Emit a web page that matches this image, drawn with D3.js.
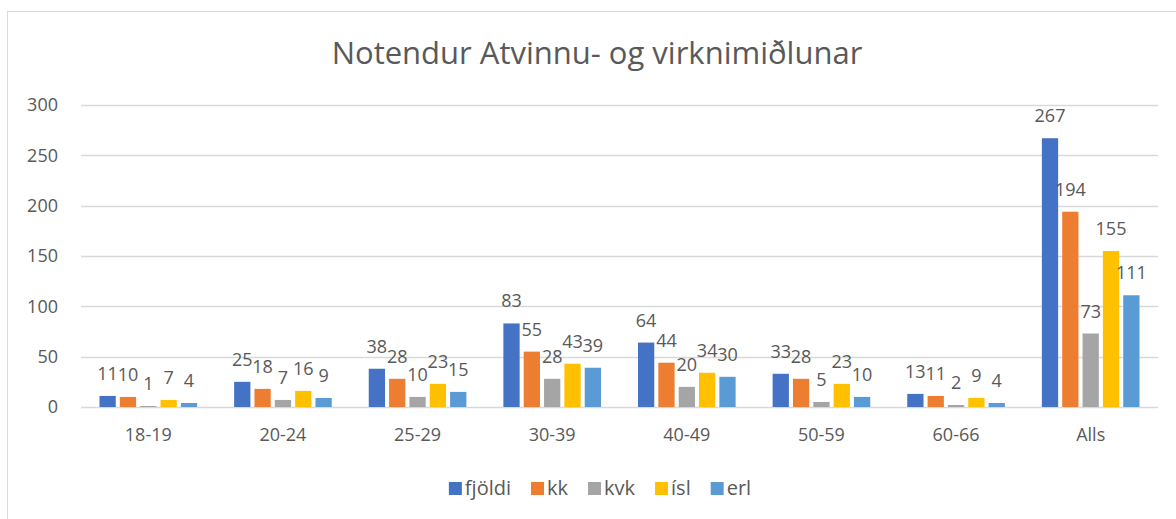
<!DOCTYPE html>
<html>
<head>
<meta charset="utf-8">
<script src="https://cdn.jsdelivr.net/npm/d3@7/dist/d3.min.js"></script>
<style>
  html, body { margin: 0; padding: 0; background: #fff; }
  svg { display: block; }
  text { font-family: "Open Sans", sans-serif; fill: #595959; }
</style>
</head>
<body>
<svg id="chart" width="1176" height="519"></svg>
<script>
const categories = ["18-19", "20-24", "25-29", "30-39", "40-49", "50-59", "60-66", "Alls"];
const seriesNames = ["fjöldi", "kk", "kvk", "ísl", "erl"];
const fjoldi = [11, 25, 38, 83, 64, 33, 13, 267];
const kk     = [10, 18, 28, 55, 44, 28, 11, 194];
const kvk    = [1, 7, 10, 28, 20, 5, 2, 73];
const isl    = [7, 16, 23, 43, 34, 23, 9, 155];
const erl    = [4, 9, 15, 39, 30, 10, 4, 111];
const yTicks = [0, 50, 100, 150, 200, 250, 300];
const colors = ["#4472C4", "#ED7D31", "#A5A5A5", "#FFC000", "#5B9BD5"];
const title = "Notendur Atvinnu- og virknimiðlunar";

const seriesValues = [fjoldi, kk, kvk, isl, erl];
const rows = categories.map((c, i) => ({
  cat: c,
  vals: seriesNames.map((s, j) => ({ key: s, value: seriesValues[j][i], idx: j }))
}));

const svg = d3.select("#chart");

// chart area border
svg.append("rect")
  .attr("x", 7.5).attr("y", 11.5)
  .attr("width", 1180).attr("height", 520)
  .attr("fill", "none").attr("stroke", "#D9D9D9").attr("stroke-width", 1);

const plot = { left: 81, right: 1158, top: 105, bottom: 407 };

const x0 = d3.scaleBand().domain(categories).range([plot.left, plot.right]).padding(0);
const groupPad = 18.5;
const x1 = d3.scaleBand().domain(seriesNames)
  .range([groupPad, x0.bandwidth() - groupPad]).paddingInner(0.2);
const y = d3.scaleLinear().domain([0, 300]).range([plot.bottom, plot.top]);
const color = d3.scaleOrdinal().domain(seriesNames).range(colors);

// title
svg.append("text")
  .attr("x", 597).attr("y", 64)
  .attr("text-anchor", "middle")
  .style("font-size", "31px")
  .text(title);

// gridlines
svg.append("g").selectAll("line").data(yTicks).join("line")
  .attr("x1", plot.left).attr("x2", plot.right)
  .attr("y1", d => Math.round(y(d)) + 0.5).attr("y2", d => Math.round(y(d)) + 0.5)
  .attr("stroke", "#D9D9D9").attr("stroke-width", 1.3);

// y axis labels
const yAxis = d3.axisLeft(y).tickValues(yTicks).tickSize(0).tickPadding(0);
const gy = svg.append("g").attr("transform", `translate(58,0)`).call(yAxis);
gy.select(".domain").remove();
gy.selectAll("text").style("font-size", "18px").attr("fill", "#595959")
  .style("font-family", '"Open Sans", sans-serif');

// x axis labels
const xAxis = d3.axisBottom(x0).tickSize(0).tickPadding(0);
const gx = svg.append("g").attr("transform", `translate(0,${plot.bottom + 21})`).call(xAxis);
gx.select(".domain").remove();
gx.selectAll("text").style("font-size", "18px").attr("fill", "#595959")
  .style("font-family", '"Open Sans", sans-serif');

// bars
const groups = svg.append("g").selectAll("g").data(rows).join("g")
  .attr("transform", d => `translate(${x0(d.cat)},0)`);

groups.selectAll("rect").data(d => d.vals).join("rect")
  .attr("x", d => x1(d.key))
  .attr("y", d => y(d.value))
  .attr("width", x1.bandwidth())
  .attr("height", d => y(0) - y(d.value))
  .attr("fill", d => color(d.key));

groups.selectAll("text.lbl").data(d => d.vals).join("text")
  .attr("class", "lbl")
  .attr("x", d => x1(d.key) + x1.bandwidth() / 2)
  .attr("y", d => y(d.value) - 16)
  .attr("text-anchor", "middle")
  .style("font-size", "18px")
  .text(d => d.value);

// legend
const legend = svg.append("g");
const items = legend.selectAll("g").data(seriesNames).join("g");
items.append("rect")
  .attr("width", 13).attr("height", 13)
  .attr("y", 482)
  .attr("fill", d => color(d));
items.append("text")
  .attr("x", 16).attr("y", 495)
  .style("font-size", "20px")
  .text(d => d);
let cx = 0;
const offsets = [];
const itemGap = 20;
items.each(function(d, i) {
  const w = 16 + this.querySelector("text").getComputedTextLength();
  offsets.push(cx);
  cx += w + itemGap;
});
const totalW = cx - itemGap;
const startX = 600 - totalW / 2;
items.attr("transform", (d, i) => `translate(${startX + offsets[i]},0)`);
</script>
</body>
</html>
